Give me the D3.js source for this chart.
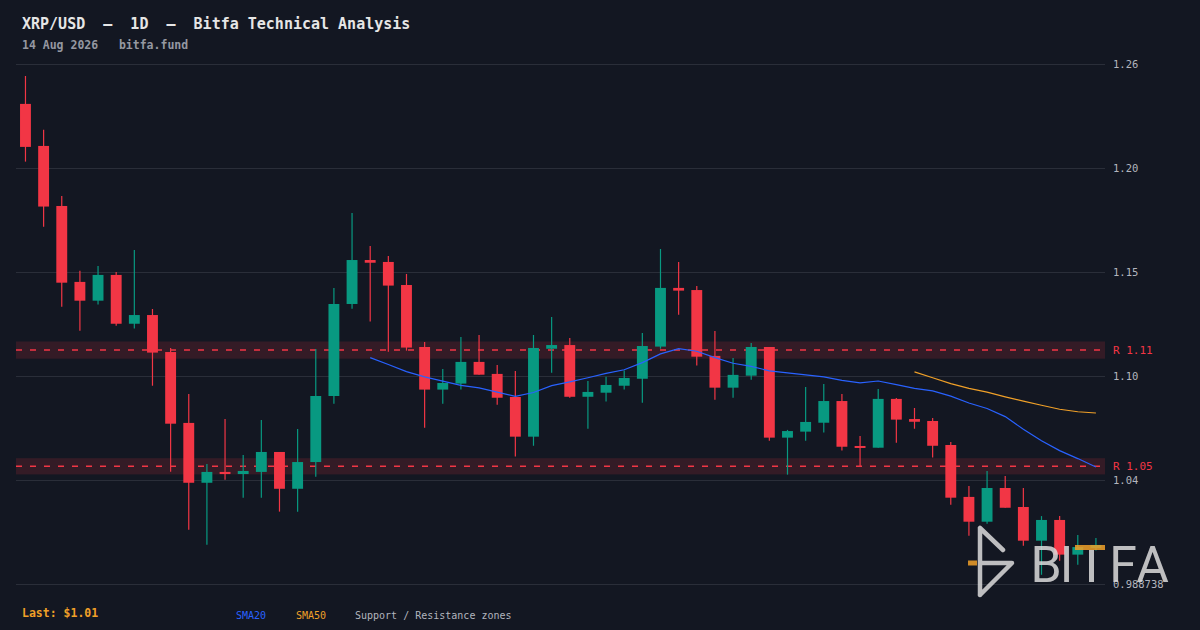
<!DOCTYPE html>
<html>
<head>
    <meta charset="utf-8" />
    <title>XRP/USD 1D</title>
    <script src="https://cdn.jsdelivr.net/npm/d3@7/dist/d3.min.js"></script>
    <style>
        html, body { margin: 0; padding: 0; background: #131722; }
        svg { display: block; }
    </style>
</head>
<body>
<script>
    // Daily candles (60 days)
    var opens = [1.2366, 1.2149, 1.1839, 1.1447, 1.1350, 1.1483, 1.1231, 1.1276, 1.1085, 1.0719,
                 1.0410, 1.0466, 1.0455, 1.0466, 1.0569, 1.0379, 1.0517, 1.0858, 1.1333, 1.1560,
                 1.1550, 1.1431, 1.1111, 1.0891, 1.0922, 1.1034, 1.0972, 1.0853, 1.0648, 1.1102,
                 1.1121, 1.0854, 1.0875, 1.0911, 1.0947, 1.1113, 1.1416, 1.1405, 1.1065, 1.0901,
                 1.0963, 1.1111, 1.0643, 1.0674, 1.0720, 1.0832, 1.0600, 1.0591, 1.0843, 1.0739,
                 1.0729, 1.0605, 1.0337, 1.0209, 1.0383, 1.0285, 1.0111, 1.0218, 1.0039, 1.0073];
    var highs = [1.2510, 1.2232, 1.1891, 1.1504, 1.1529, 1.1498, 1.1612, 1.1307, 1.1106, 1.0868,
                 1.0507, 1.0739, 1.0553, 1.0734, 1.0569, 1.0688, 1.1101, 1.1416, 1.1803, 1.1633,
                 1.1581, 1.1488, 1.1137, 1.0998, 1.1163, 1.1173, 1.1018, 1.0987, 1.1173, 1.1266,
                 1.1158, 1.0936, 1.0958, 1.0989, 1.1183, 1.1617, 1.1550, 1.1426, 1.1194, 1.1054,
                 1.1132, 1.1111, 1.0683, 1.0905, 1.0920, 1.0868, 1.0652, 1.0894, 1.0848, 1.0796,
                 1.0745, 1.0621, 1.0393, 1.0471, 1.0445, 1.0383, 1.0238, 1.0238, 1.0140, 1.0125];
    var lows = [1.2068, 1.1732, 1.1319, 1.1195, 1.1330, 1.1221, 1.1206, 1.0911, 1.0467, 1.0168,
                1.0090, 1.0426, 1.0333, 1.0333, 1.0261, 1.0261, 1.0441, 1.0818, 1.1309, 1.1242,
                1.1087, 1.1092, 1.0694, 1.0818, 1.0891, 1.0968, 1.0813, 1.0545, 1.0601, 1.0978,
                1.0849, 1.0689, 1.0829, 1.0891, 1.0823, 1.1102, 1.1278, 1.1015, 1.0839, 1.0849,
                1.0942, 1.0627, 1.0452, 1.0627, 1.0669, 1.0576, 1.0493, 1.0591, 1.0617, 1.0689,
                1.0540, 1.0297, 1.0137, 1.0199, 1.0281, 1.0085, 0.9935, 1.0008, 0.9987, 1.0060];
    var closes = [1.2144, 1.1836, 1.1443, 1.1350, 1.1483, 1.1231, 1.1276, 1.1082, 1.0715, 1.0410,
                  1.0466, 1.0455, 1.0471, 1.0569, 1.0379, 1.0517, 1.0858, 1.1333, 1.1560, 1.1546,
                  1.1428, 1.1108, 1.0891, 1.0925, 1.1034, 1.0968, 1.0849, 1.0648, 1.1106, 1.1121,
                  1.0854, 1.0879, 1.0915, 1.0951, 1.1116, 1.1416, 1.1402, 1.1061, 1.0901, 1.0967,
                  1.1111, 1.0643, 1.0677, 1.0724, 1.0832, 1.0596, 1.0591, 1.0843, 1.0736, 1.0725,
                  1.0601, 1.0333, 1.0209, 1.0383, 1.0281, 1.0111, 1.0218, 1.0039, 1.0078, 1.0089];

    // resistance zones
    var zoneLevels = [1.1095, 1.0495];
    var zoneLabels = ["R 1.11", "R 1.05"];

    // price axis
    var yDomain = [0.988738, 1.2572];
    var tickLabels = ["0.988738", "1.04", "1.10", "1.15", "1.20", "1.26"];

    var w = 1200, h = 630;
    var plotL = 16, plotR = 1105, plotT = 64, plotB = 584;

    var red = "#f23645", green = "#089981", blue = "#2962ff", orange = "#f0a028";
    var mono = "'DejaVu Sans Mono', 'Liberation Mono', monospace";

    var svg = d3.select("body").append("svg")
        .attr("width", w)
        .attr("height", h);

    svg.append("rect").attr("width", w).attr("height", h).attr("fill", "#131722");

    var xScale = d3.scaleBand()
        .domain(d3.range(closes.length))
        .range([16.4, 1105]);

    var yScale = d3.scaleLinear()
        .domain(yDomain)
        .range([plotB, plotT]);

    // grid lines + price labels
    var tickValues = d3.range(tickLabels.length).map(function (i) {
        return yDomain[0] + i * (yDomain[1] - yDomain[0]) / (tickLabels.length - 1);
    });

    svg.append("g").selectAll("line")
        .data(tickValues).enter().append("line")
        .attr("x1", plotL).attr("x2", plotR)
        .attr("y1", function (d) { return Math.round(yScale(d)) + 0.5; })
        .attr("y2", function (d) { return Math.round(yScale(d)) + 0.5; })
        .attr("stroke", "#2a2e39")
        .attr("stroke-width", 1);

    svg.append("g").selectAll("text")
        .data(tickValues).enter().append("text")
        .attr("x", 1113)
        .attr("y", function (d) { return yScale(d); })
        .attr("dy", "0.35em")
        .attr("font-family", mono)
        .attr("font-size", "10.5px")
        .attr("fill", "#b2b5be")
        .text(function (d, i) { return tickLabels[i]; });

    // zones
    var zones = svg.append("g");
    zoneLevels.forEach(function (lv, i) {
        zones.append("rect")
            .attr("x", plotL)
            .attr("width", plotR - plotL)
            .attr("y", yScale(lv * 1.004))
            .attr("height", yScale(lv * 0.996) - yScale(lv * 1.004))
            .attr("fill", red)
            .attr("fill-opacity", 0.15);
        zones.append("line")
            .attr("x1", plotL).attr("x2", plotR)
            .attr("y1", yScale(lv)).attr("y2", yScale(lv))
            .attr("stroke", red)
            .attr("stroke-width", 1.5)
            .attr("stroke-dasharray", "6,8");
        zones.append("text")
            .attr("x", 1113)
            .attr("y", yScale(lv))
            .attr("dy", "0.35em")
            .attr("font-family", mono)
            .attr("font-size", "11px")
            .attr("fill", red)
            .text(zoneLabels[i]);
    });

    // candles
    var bw = xScale.bandwidth() * 0.6;
    var cx = function (i) { return xScale(i) + xScale.bandwidth() / 2; };
    var colorOf = function (i) { return closes[i] >= opens[i] ? green : red; };

    var candles = svg.append("g").selectAll("g")
        .data(d3.range(closes.length)).enter().append("g");

    candles.append("line")
        .attr("x1", function (i) { return cx(i); })
        .attr("x2", function (i) { return cx(i); })
        .attr("y1", function (i) { return yScale(highs[i]); })
        .attr("y2", function (i) { return yScale(lows[i]); })
        .attr("stroke", colorOf)
        .attr("stroke-width", 1.2);

    candles.append("rect")
        .attr("x", function (i) { return cx(i) - bw / 2; })
        .attr("width", bw)
        .attr("y", function (i) { return yScale(Math.max(opens[i], closes[i])); })
        .attr("height", function (i) {
            return Math.max(2, Math.abs(yScale(opens[i]) - yScale(closes[i])));
        })
        .attr("fill", colorOf);

    // moving averages of the closes
    var sma = function (n) {
        var out = [];
        for (var i = n - 1; i < closes.length; i++) {
            out.push({ i: i, v: d3.mean(closes.slice(i - n + 1, i + 1)) });
        }
        return out;
    };

    var line = d3.line()
        .x(function (d) { return cx(d.i); })
        .y(function (d) { return yScale(d.v); });

    svg.append("path").datum(sma(20))
        .attr("d", line).attr("fill", "none")
        .attr("stroke", blue).attr("stroke-width", 1.2);

    svg.append("path").datum(sma(50))
        .attr("d", line).attr("fill", "none")
        .attr("stroke", orange).attr("stroke-width", 1.2);

    // logo watermark
    var logo = svg.append("g").attr("opacity", 0.85);
    logo.append("path")
        .attr("d", "M980,528 L980,595 M980,528 L1003,550 M980,563 L1012,563 L980,595")
        .attr("fill", "none")
        .attr("stroke", "#dcdcdc")
        .attr("stroke-width", 4.5)
        .attr("stroke-linecap", "round")
        .attr("stroke-linejoin", "round");
    logo.append("line")
        .attr("x1", 968).attr("x2", 977).attr("y1", 563).attr("y2", 563)
        .attr("stroke", orange).attr("stroke-width", 5);

    var letters = [["B", 1046], ["I", 1066.5], ["F", 1123], ["A", 1152.5]];
    logo.selectAll("text.l").data(letters).enter().append("text")
        .attr("x", function (d) { return d[1]; })
        .attr("y", 582)
        .attr("text-anchor", "middle")
        .attr("font-family", "Roboto, 'DejaVu Sans', sans-serif")
        .attr("font-size", "50px")
        .attr("fill", "#dcdcdc")
        .text(function (d) { return d[0]; });
    logo.append("rect")
        .attr("x", 1089).attr("y", 549).attr("width", 5).attr("height", 33)
        .attr("fill", "#dcdcdc");
    logo.append("rect")
        .attr("x", 1075).attr("y", 545).attr("width", 30).attr("height", 5)
        .attr("fill", orange);

    // header
    svg.append("text")
        .attr("x", 22).attr("y", 29)
        .attr("font-family", mono)
        .attr("font-size", "15px")
        .attr("font-weight", "bold")
        .attr("fill", "#e6e6e6")
        .style("white-space", "pre")
        .text("XRP/USD  \u2013  1D  \u2013  Bitfa Technical Analysis");

    svg.append("text")
        .attr("x", 22).attr("y", 49)
        .attr("font-family", mono)
        .attr("font-size", "11.5px")
        .attr("font-weight", "bold")
        .attr("fill", "#9598a1")
        .style("white-space", "pre")
        .text("14 Aug 2026   bitfa.fund");

    // footer
    svg.append("text")
        .attr("x", 22).attr("y", 617)
        .attr("font-family", mono)
        .attr("font-size", "11.5px")
        .attr("font-weight", "bold")
        .attr("fill", orange)
        .text("Last: $" + d3.format(".2f")(closes[closes.length - 1]));

    var legend = [["SMA20", blue, 236], ["SMA50", orange, 296], ["Support / Resistance zones", "#b2b5be", 355]];
    svg.append("g").selectAll("text")
        .data(legend).enter().append("text")
        .attr("x", function (d) { return d[2]; })
        .attr("y", 619)
        .attr("font-family", mono)
        .attr("font-size", "10px")
        .attr("fill", function (d) { return d[1]; })
        .text(function (d) { return d[0]; });
</script>
</body>
</html>
